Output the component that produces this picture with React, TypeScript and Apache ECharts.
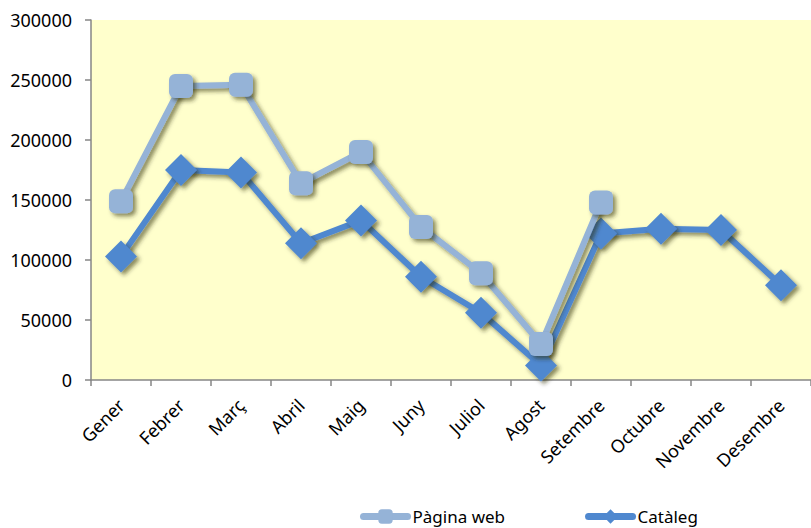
import React, { useEffect, useRef } from "react";
import * as echarts from "echarts";

const months = ["Gener", "Febrer", "Març", "Abril", "Maig", "Juny", "Juliol", "Agost", "Setembre", "Octubre", "Novembre", "Desembre"];
const paginaWeb = [149000, 245000, 246000, 164000, 190000, 127500, 89000, 30000, 148000, null, null, null];
const cataleg = [103000, 175000, 173000, 114000, 133000, 86000, 56000, 12000, 122000, 126000, 125000, 79000];
const seriesNames = ["Pàgina web", "Catàleg"];

const FONT = "Noto Sans";

export default function App() {
  const ref = useRef<HTMLDivElement>(null);
  useEffect(() => {
    if (!ref.current) return;
    const chart = echarts.init(ref.current, null, { renderer: "svg" });
    const shadow = {
      shadowColor: "rgba(40,40,0,0.55)",
      shadowBlur: 4,
      shadowOffsetX: 3,
      shadowOffsetY: 3,
    };
    chart.setOption({
      animation: false,
      backgroundColor: "#ffffff",
      textStyle: { fontFamily: FONT },
      grid: {
        left: 91,
        top: 20,
        width: 724,
        height: 360,
        show: true,
        backgroundColor: "#FFFFCC",
        borderWidth: 0,
      },
      legend: {
        top: 503,
        left: 355,
        itemWidth: 44,
        itemHeight: 18,
        itemGap: 80,
        lineStyle: { width: 7, cap: "round" },
        textStyle: { fontFamily: FONT, fontSize: 17, color: "#000" },
        data: seriesNames,
      },
      xAxis: {
        type: "category",
        data: months,
        boundaryGap: true,
        axisLine: { lineStyle: { color: "#868686", width: 1.5 } },
        axisTick: { show: true, length: 6, lineStyle: { color: "#868686", width: 1.5 } },
        axisLabel: {
          rotate: 45,
          margin: 22,
          fontFamily: FONT,
          fontSize: 18,
          color: "#000",
          interval: 0,
        },
        splitLine: { show: false },
      },
      yAxis: {
        type: "value",
        min: 0,
        max: 300000,
        interval: 50000,
        axisLine: { show: true, lineStyle: { color: "#868686", width: 1.5 } },
        axisTick: { show: true, length: 6, lineStyle: { color: "#868686", width: 1.5 } },
        axisLabel: {
          margin: 19,
          fontFamily: FONT,
          fontSize: 18,
          color: "#000",
          formatter: (v: number) => String(v),
        },
        splitLine: { show: false },
      },
      series: [
        {
          name: seriesNames[0],
          type: "line",
          data: paginaWeb,
          symbol: "roundRect",
          symbolSize: 24,
          color: "#95B3D7",
          lineStyle: { width: 6, color: "#95B3D7", ...shadow },
          itemStyle: { color: "#95B3D7", ...shadow },
          z: 3,
        },
        {
          name: seriesNames[1],
          type: "line",
          data: cataleg,
          symbol: "diamond",
          symbolSize: 32,
          color: "#4F88CF",
          lineStyle: { width: 6, color: "#4F88CF", ...shadow },
          itemStyle: { color: "#4F88CF", ...shadow },
          z: 2,
        },
      ],
    });
    return () => chart.dispose();
  }, []);
  return (
    <div
      ref={ref}
      style={{ position: "fixed", left: 0, top: 0, width: 811, height: 528 }}
    />
  );
}
